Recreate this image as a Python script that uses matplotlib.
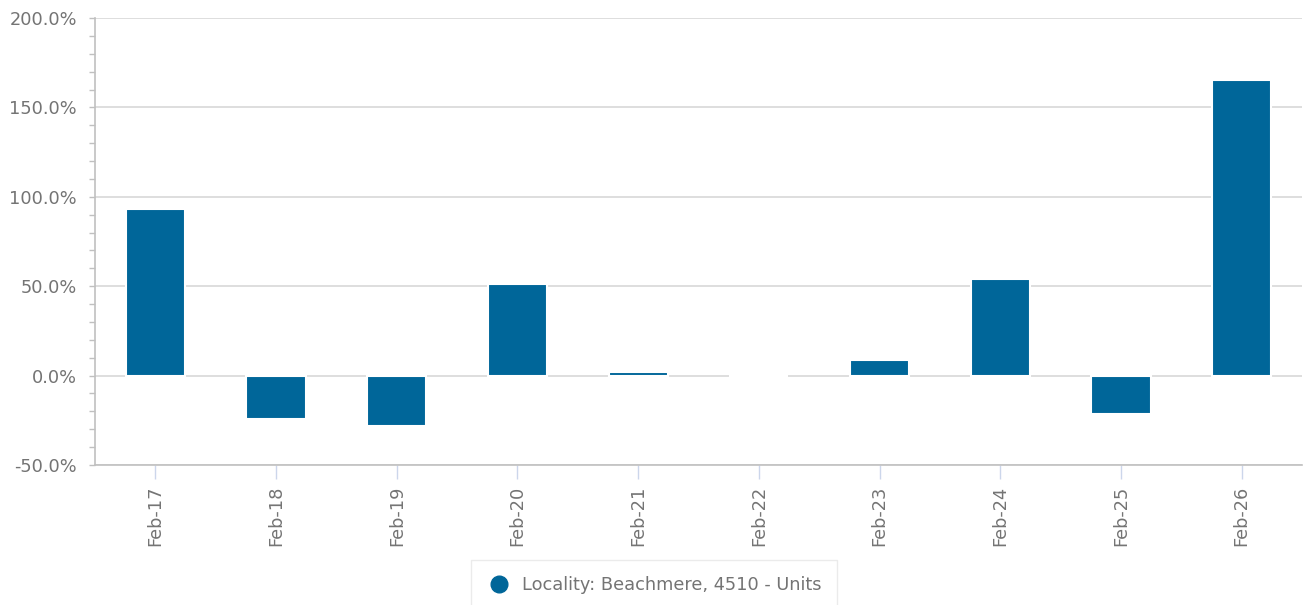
import matplotlib.pyplot as plt
from matplotlib.ticker import MultipleLocator, FuncFormatter
from matplotlib.lines import Line2D

categories = ["Feb-17", "Feb-18", "Feb-19", "Feb-20", "Feb-21",
              "Feb-22", "Feb-23", "Feb-24", "Feb-25", "Feb-26"]
values = [93.0, -24.5, -28.0, 51.0, 2.2, 0.0, 9.0, 54.0, -21.5, 165.5]
series_name = "Locality: Beachmere, 4510 - Units"

bar_color = "#006699"
text_color = "#747474"
grid_color = "#d8d8d8"
fs = 12.8

W, H = 1306, 605
fig = plt.figure(figsize=(W / 100, H / 100), dpi=100)
ax = fig.add_axes([95 / W, 1 - 465 / H, (1302 - 95) / W, (465 - 18) / H])

x = list(range(len(categories)))
ax.bar(x, values, width=0.49, color=bar_color, edgecolor="white",
       linewidth=1.5, zorder=3)

ax.set_xlim(-0.5, len(categories) - 0.5)
ax.set_ylim(-50, 200)

# y axis
ax.yaxis.set_major_locator(MultipleLocator(50))
ax.yaxis.set_minor_locator(MultipleLocator(10))
ax.yaxis.set_major_formatter(FuncFormatter(lambda v, p: "%.1f%%" % v))
ax.grid(True, axis="y", which="major", color=grid_color, linewidth=1.2, zorder=0)
ax.tick_params(axis="y", which="both", colors="#c0c0c0", labelcolor=text_color,
               labelsize=fs, length=4.5, width=1, pad=8.5)

# x axis
ax.set_xticks(x)
ax.set_xticklabels(categories, rotation=90)
ax.tick_params(axis="x", colors="#ccd6eb", labelcolor=text_color,
               labelsize=fs, length=10, width=1, pad=5)

for s in ["top", "right"]:
    ax.spines[s].set_visible(False)
ax.spines["left"].set_color("#c0c0c0")
ax.spines["bottom"].set_color("#c0c0c0")
ax.spines["left"].set_linewidth(1.2)
ax.spines["bottom"].set_linewidth(1.2)

# legend
handle = Line2D([], [], marker="o", linestyle="none", markersize=12,
                markerfacecolor=bar_color, markeredgecolor=bar_color)
leg = fig.legend([handle], [series_name], loc="upper center",
                 bbox_to_anchor=(654 / W, 1 - 560 / H), frameon=True,
                 fancybox=False, fontsize=fs, handletextpad=0.55,
                 handlelength=1.4, borderpad=0.9, borderaxespad=0)
leg.get_frame().set_edgecolor("#e6e6e6")
leg.get_frame().set_linewidth(1)
for t in leg.get_texts():
    t.set_color(text_color)

plt.savefig("out.png", dpi=100)
